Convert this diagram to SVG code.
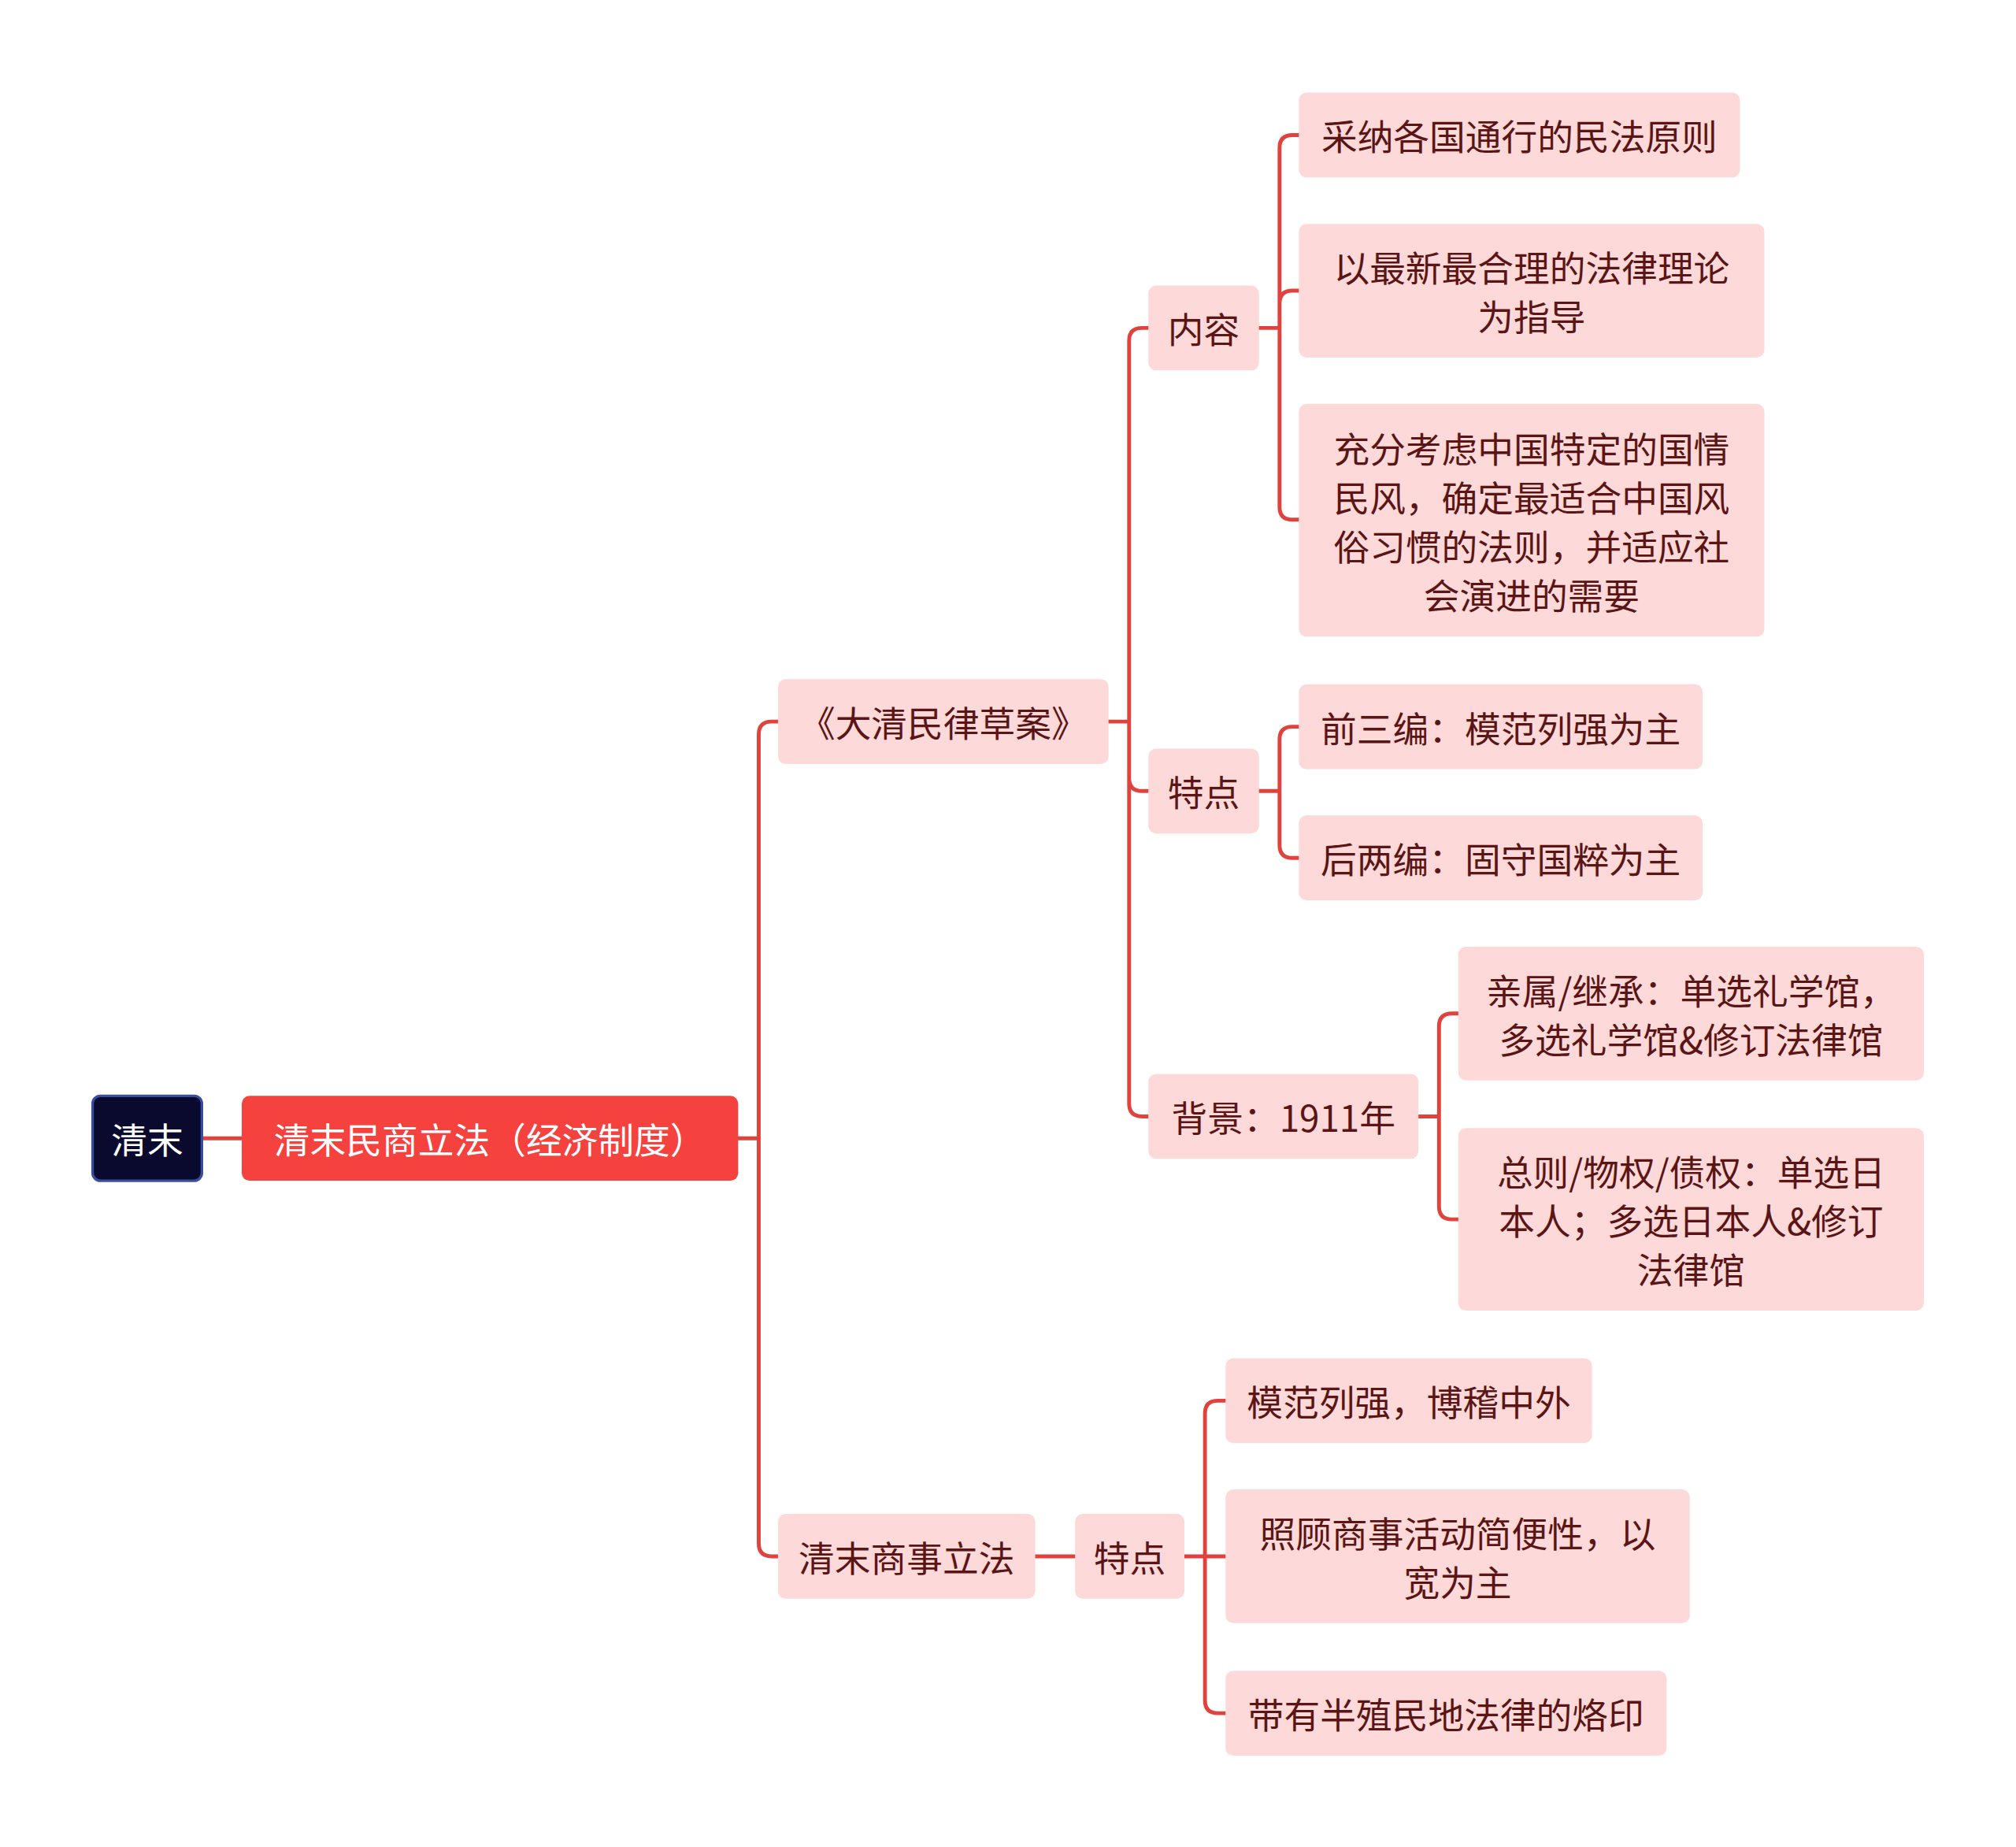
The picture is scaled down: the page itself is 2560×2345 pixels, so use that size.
<svg xmlns="http://www.w3.org/2000/svg" width="2560" height="2345" viewBox="0 0 2560 2345">
<style>
.n{fill:#fdd9d9}
.t{font-family:"Noto Sans CJK SC","Noto Sans",sans-serif;font-size:28px;fill:#5c1515;text-anchor:middle;dominant-baseline:central}
.w{fill:#ffffff}
.c{fill:none;stroke:#e0433e;stroke-width:3;stroke-linecap:round}
</style>
<rect width="2560" height="2345" fill="#ffffff"/>
<g transform="scale(1.633)">
<g id="connectors">
<path class="c" d="M157 885H188"/>
<path class="c" d="M574 885H590M590 885V571Q590 561 600 561H605M590 885V1200Q590 1210 600 1210H605"/>
<path class="c" d="M862 561H878M878 561V265Q878 255 888 255H893M878 561V605Q878 615 888 615H893M878 561V858Q878 868 888 868H893"/>
<path class="c" d="M979 255H995M995 255V115Q995 105 1005 105H1010M995 255V236Q995 226 1005 226H1010M995 255V394Q995 404 1005 404H1010"/>
<path class="c" d="M979 615H995M995 615V575Q995 565 1005 565H1010M995 615V657Q995 667 1005 667H1010"/>
<path class="c" d="M1103 868H1119M1119 868V798Q1119 788 1129 788H1134M1119 868V938Q1119 948 1129 948H1134"/>
<path class="c" d="M805 1210H836"/>
<path class="c" d="M921 1210H937M937 1210V1099Q937 1089 947 1089H953M937 1210H953M937 1210V1322Q937 1332 947 1332H953"/>
</g>
<g id="n0"><rect x="72" y="852" width="85" height="66" rx="6" fill="#0a0a2e" stroke="#3a4ea0" stroke-width="2"/><text class="t w" x="114.5" y="885">清末</text></g>
<g id="n1"><rect x="188" y="852" width="386" height="66" rx="6" fill="#f5423f"/><text class="t w" x="381" y="885">清末民商立法（经济制度）</text></g>
<g id="n2"><rect class="n" x="605" y="528" width="257" height="66" rx="6"/><text class="t" x="733.5" y="561">《大清民律草案》</text></g>
<g id="n3"><rect class="n" x="605" y="1177" width="200" height="66" rx="6"/><text class="t" x="705" y="1210">清末商事立法</text></g>
<g id="n4"><rect class="n" x="893" y="222" width="86" height="66" rx="6"/><text class="t" x="936" y="255">内容</text></g>
<g id="n5"><rect class="n" x="893" y="582" width="86" height="66" rx="6"/><text class="t" x="936" y="615">特点</text></g>
<g id="n6"><rect class="n" x="893" y="835" width="210" height="66" rx="6"/><text class="t" x="998" y="868">背景：1911年</text></g>
<g id="n7"><rect class="n" x="1010" y="72" width="343" height="66" rx="6"/><text class="t" x="1181.5" y="105">采纳各国通行的民法原则</text></g>
<g id="n8"><rect class="n" x="1010" y="174" width="362" height="104" rx="6"/><text class="t" x="1191" y="207">以最新最合理的法律理论</text><text class="t" x="1191" y="245">为指导</text></g>
<g id="n9"><rect class="n" x="1010" y="314" width="362" height="181" rx="6"/><text class="t" x="1191" y="348">充分考虑中国特定的国情</text><text class="t" x="1191" y="386">民风，确定最适合中国风</text><text class="t" x="1191" y="424">俗习惯的法则，并适应社</text><text class="t" x="1191" y="462">会演进的需要</text></g>
<g id="n10"><rect class="n" x="1010" y="532" width="314" height="66" rx="6"/><text class="t" x="1167" y="565">前三编：模范列强为主</text></g>
<g id="n11"><rect class="n" x="1010" y="634" width="314" height="66" rx="6"/><text class="t" x="1167" y="667">后两编：固守国粹为主</text></g>
<g id="n12"><rect class="n" x="1134" y="736" width="362" height="104" rx="6"/><text class="t" x="1315" y="769">亲属/继承：单选礼学馆，</text><text class="t" x="1315" y="807">多选礼学馆&amp;修订法律馆</text></g>
<g id="n13"><rect class="n" x="1134" y="877" width="362" height="142" rx="6"/><text class="t" x="1315" y="910">总则/物权/债权：单选日</text><text class="t" x="1315" y="948">本人；多选日本人&amp;修订</text><text class="t" x="1315" y="986">法律馆</text></g>
<g id="n14"><rect class="n" x="836" y="1177" width="85" height="66" rx="6"/><text class="t" x="878.5" y="1210">特点</text></g>
<g id="n15"><rect class="n" x="953" y="1056" width="285" height="66" rx="6"/><text class="t" x="1095.5" y="1089">模范列强，博稽中外</text></g>
<g id="n16"><rect class="n" x="953" y="1158" width="361" height="104" rx="6"/><text class="t" x="1133.5" y="1191">照顾商事活动简便性，以</text><text class="t" x="1133.5" y="1229">宽为主</text></g>
<g id="n17"><rect class="n" x="953" y="1299" width="343" height="66" rx="6"/><text class="t" x="1124.5" y="1332">带有半殖民地法律的烙印</text></g>
</g>
</svg>
